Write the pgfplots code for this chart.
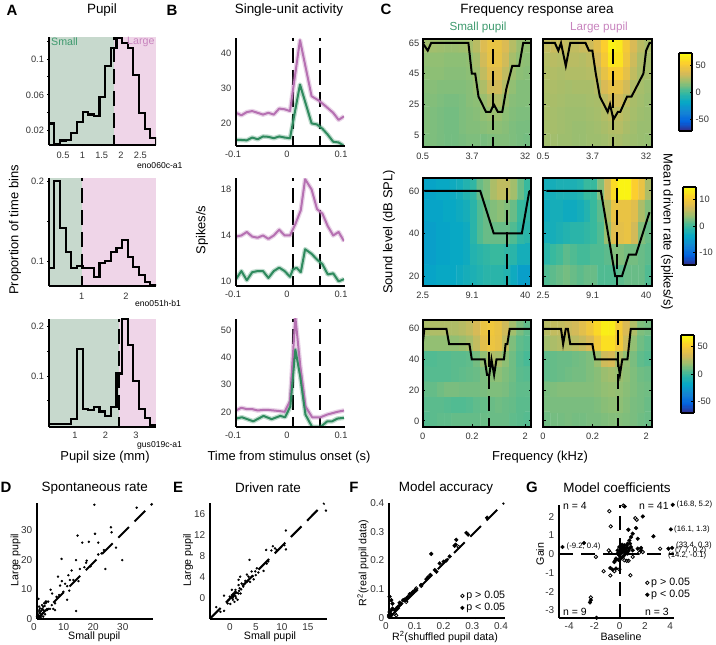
\documentclass[border=0pt]{standalone}
\usepackage{fontspec}
\setmainfont{Liberation Sans}
\usepackage{pgfplots}
\pgfplotsset{compat=1.18}

\definecolor{grn}{HTML}{2F8A5E}
\definecolor{pur}{HTML}{B671B2}
\definecolor{bgG}{HTML}{C7D9CD}
\definecolor{bgP}{HTML}{EFD5E8}
\definecolor{txtG}{HTML}{3E9A6E}
\definecolor{txtP}{HTML}{C884BE}

\newcommand{\fs}[1]{\fontsize{#1}{#1}\selectfont}
% text placed in reference pixels: size, options, x, y, text
\newcommand{\T}[5]{\node[inner sep=0pt,font=\fs{#1},#2] at (#3bp,{645bp-#4bp}) {#5};}

\pgfplotsset{
  colormap={parula}{HTML=(352A87) HTML=(0363E1) HTML=(1485D4) HTML=(06A7C6) HTML=(38B99E) HTML=(92BF73) HTML=(D9BA56) HTML=(FCCE2E) HTML=(F9FB0E)},
  colormap name=parula,
  /pgf/number format/assume math mode=true,
  panel/.style n args={4}{scale only axis,anchor=south west,at={(#1bp,{645bp-#2bp-#4bp})},width=#3bp,height=#4bp},
  common/.style={tick align=inside,major tick length=2.5bp,minor tick length=0bp,
    tick style={black,line width=1bp},tick label style={font=\fs{9.3},text=black!80},
    axis on top,clip=true},
  open/.style={common,axis x line=bottom,axis y line=left,axis line style={-,line width=2.2bp}},
  hm/.style={common,axis line style={line width=2.2bp},xmin=-0.5,xmax=14.5,xtick={-0.5,6.33,13.7},
    xticklabel style={yshift=-3bp},point meta min=-#1,point meta max=#1},
  bar/.style n args={5}{colorbar sampled,colorbar style={samples=65,at={(#1,#2)},anchor=north west,
    width=13bp,height=78bp,ytick={#3},yticklabels={#4},ytick pos=right,
    major tick length=2.5bp,tick align=inside,axis line style={line width=1.8bp},
    tick label style={font=\fs{9.3},text=black!80},tick style={black,line width=0.8bp},
    /pgf/number format/assume math mode=true}},
  hist/.style={const plot,black,line width=2.1bp,line join=miter},
  vd/.style={black,line width=2.2bp,dash pattern=on 3bp off 7bp on 15bp off 7bp on 15bp off 7bp on 15bp off 7bp on 15bp off 7bp on 15bp off 7bp},
  ln/.style={line width=2bp,line join=round},
  ps/.style={line width=4.6bp,opacity=0.3,line join=round},
  ld/.style={black,line width=2.1bp,dash pattern=on 15bp off 8bp},
  tune/.style={black,line width=2bp,line join=miter},
  dot/.style={only marks,mark=*,mark size=1bp,black},
  fdot/.style={only marks,mark=*,mark size=1.9bp,black},
  odot/.style={only marks,mark=o,mark size=1.7bp,black,mark options={line width=0.8bp}},
  bx/.style={open,xticklabel style={xshift=-3bp},xmin=-0.1,xmax=0.1,xtick={-0.1,0,0.1},xticklabels={-0.1,0,0.1}},
}

\begin{document}
\begin{tikzpicture}
\path[use as bounding box] (0,0) rectangle (716bp,645bp);

% ---------- A: pupil histograms
\begin{axis}[panel={48.7}{37}{107.3}{108},open,xmin=0.13,xmax=2.904,ymin=0.004,ymax=0.1246,
  xtick={0.5,1,1.5,2,2.5},xticklabels={0.5,1,1.5,2,2.5},xticklabel style={yshift=-2bp},
  ytick={0.02,0.04,0.06,0.08,0.1,0.12},yticklabels={0.02,,0.06,,0.1,}]
\addplot[fill=bgG,draw=none] coordinates {(0.13,0.004)(1.82,0.004)(1.82,0.1246)(0.13,0.1246)} -- cycle;
\addplot[fill=bgP,draw=none] coordinates {(1.82,0.004)(2.904,0.004)(2.904,0.1246)(1.82,0.1246)} -- cycle;
\addplot[vd] coordinates {(1.82,0.1246)(1.82,0.004)};
\addplot[hist] coordinates {(0.13,0.028)(0.276,0.005)(0.422,0.009)(0.568,0.01)(0.714,0.017)(0.86,0.03)(1.006,0.041)(1.152,0.038)(1.298,0.036)(1.444,0.058)(1.59,0.092)(1.736,0.112)(1.882,0.123)(2.028,0.118)(2.174,0.112)(2.32,0.082)(2.466,0.04)(2.612,0.022)(2.758,0.012)(2.904,0.012)(2.904,0.004)};
\end{axis}
\begin{axis}[panel={48.7}{178}{107.3}{108},open,xmin=0.255,xmax=2.677,ymin=0.069,ymax=0.204,
  xtick={0.5,1,1.5,2,2.5},xticklabels={,1,,2,},xticklabel style={yshift=-2bp},
  ytick={0.1,0.15,0.2},yticklabels={0.1,,0.2}]
\addplot[fill=bgG,draw=none] coordinates {(0.255,0.069)(1,0.069)(1,0.204)(0.255,0.204)} -- cycle;
\addplot[fill=bgP,draw=none] coordinates {(1,0.069)(2.677,0.069)(2.677,0.204)(1,0.204)} -- cycle;
\addplot[vd] coordinates {(1,0.204)(1,0.069)};
\addplot[hist] coordinates {(0.255,0.092)(0.3825,0.2)(0.51,0.142)(0.6375,0.112)(0.765,0.091)(0.8925,0.094)(1.02,0.092)(1.1475,0.091)(1.275,0.08)(1.4025,0.098)(1.53,0.1)(1.6575,0.112)(1.785,0.117)(1.9125,0.126)(2.04,0.105)(2.1675,0.093)(2.295,0.083)(2.4225,0.074)(2.55,0.07)(2.677,0.07)(2.677,0.069)};
\end{axis}
\begin{axis}[panel={48.7}{319}{107.3}{108},open,xmin=0.138,xmax=3.66,ymin=-0.0034,ymax=0.2156,
  xtick={1,2,3},xticklabels={1,2,3},
  ytick={0.05,0.1,0.15,0.2},yticklabels={,0.1,,0.2}]
\addplot[fill=bgG,draw=none] coordinates {(0.138,-0.0034)(2.45,-0.0034)(2.45,0.2156)(0.138,0.2156)} -- cycle;
\addplot[fill=bgP,draw=none] coordinates {(2.45,-0.0034)(3.66,-0.0034)(3.66,0.2156)(2.45,0.2156)} -- cycle;
\addplot[vd] coordinates {(2.45,0.2156)(2.45,-0.0034)};
\addplot[hist] coordinates {(0.138,0.002)(0.323,0.003)(0.509,0.002)(0.694,0.002)(0.88,0.013)(1.065,0.154)(1.25,0.034)(1.436,0.031)(1.621,0.038)(1.807,0.028)(1.992,0.018)(2.177,0.038)(2.363,0.105)(2.548,0.215)(2.734,0.163)(2.919,0.09)(3.104,0.033)(3.29,0.014)(3.475,0.001)(3.66,0.001)};
\end{axis}

% ---------- B: PSTHs
\begin{axis}[panel={236}{38}{108}{108},bx,ymin=13.6,ymax=44.2,ytick={20,30,40},yticklabels={20,30,40}]
\addplot[vd] coordinates {(0.005,44.2)(0.005,13.6)};
\addplot[vd] coordinates {(0.055,44.2)(0.055,13.6)};
\addplot[pur,ps] coordinates {(-0.1,23)(-0.09,22.3)(-0.08,23.2)(-0.07,23.5)(-0.06,23)(-0.05,22.5)(-0.04,23)(-0.03,22.5)(-0.02,24.2)(-0.01,24)(0,23.5)(0.0185,43.6)(0.04,27.7)(0.053,26.5)(0.065,25)(0.08,23)(0.09,21)(0.1,22)};
\addplot[grn,ps] coordinates {(-0.1,15.3)(-0.09,15.3)(-0.08,15.2)(-0.07,16)(-0.06,15.5)(-0.05,16.3)(-0.04,16.2)(-0.03,15.8)(-0.02,16.3)(-0.01,16)(0,15.8)(0.0185,31)(0.04,20)(0.05,19.7)(0.06,18.5)(0.07,16.8)(0.08,14.8)(0.09,14.6)(0.1,13.6)};
\addplot[pur,ln] coordinates {(-0.1,23)(-0.09,22.3)(-0.08,23.2)(-0.07,23.5)(-0.06,23)(-0.05,22.5)(-0.04,23)(-0.03,22.5)(-0.02,24.2)(-0.01,24)(0,23.5)(0.0185,43.6)(0.04,27.7)(0.053,26.5)(0.065,25)(0.08,23)(0.09,21)(0.1,22)};
\addplot[grn,ln] coordinates {(-0.1,15.3)(-0.09,15.3)(-0.08,15.2)(-0.07,16)(-0.06,15.5)(-0.05,16.3)(-0.04,16.2)(-0.03,15.8)(-0.02,16.3)(-0.01,16)(0,15.8)(0.0185,31)(0.04,20)(0.05,19.7)(0.06,18.5)(0.07,16.8)(0.08,14.8)(0.09,14.6)(0.1,13.6)};
\end{axis}
\begin{axis}[panel={236}{178}{108}{108},bx,ymin=9.6,ymax=19,ytick={10,12,14,16,18},yticklabels={10,,14,,18}]
\addplot[vd] coordinates {(0.005,19)(0.005,9.6)};
\addplot[vd] coordinates {(0.055,19)(0.055,9.6)};
\addplot[pur,ps] coordinates {(-0.1,13.9)(-0.09,14)(-0.08,14.3)(-0.07,13.9)(-0.06,13.8)(-0.05,14)(-0.04,13.7)(-0.03,14)(-0.02,14.5)(-0.01,14)(0,14)(0.01,15)(0.02,16.2)(0.028,18.9)(0.04,18)(0.05,16.3)(0.06,15.9)(0.07,14.8)(0.08,14)(0.09,14.3)(0.1,13.5)};
\addplot[grn,ps] coordinates {(-0.1,10.2)(-0.09,10.9)(-0.08,10.1)(-0.07,10.8)(-0.06,10.9)(-0.05,10.9)(-0.04,10.3)(-0.03,10.9)(-0.02,11.2)(-0.01,10.9)(0,10.4)(0.005,11)(0.012,11.2)(0.02,10.8)(0.028,12.8)(0.04,12.4)(0.05,11.9)(0.06,11.5)(0.07,10.6)(0.08,10.7)(0.09,10)(0.1,10.2)};
\addplot[pur,ln] coordinates {(-0.1,13.9)(-0.09,14)(-0.08,14.3)(-0.07,13.9)(-0.06,13.8)(-0.05,14)(-0.04,13.7)(-0.03,14)(-0.02,14.5)(-0.01,14)(0,14)(0.01,15)(0.02,16.2)(0.028,18.9)(0.04,18)(0.05,16.3)(0.06,15.9)(0.07,14.8)(0.08,14)(0.09,14.3)(0.1,13.5)};
\addplot[grn,ln] coordinates {(-0.1,10.2)(-0.09,10.9)(-0.08,10.1)(-0.07,10.8)(-0.06,10.9)(-0.05,10.9)(-0.04,10.3)(-0.03,10.9)(-0.02,11.2)(-0.01,10.9)(0,10.4)(0.005,11)(0.012,11.2)(0.02,10.8)(0.028,12.8)(0.04,12.4)(0.05,11.9)(0.06,11.5)(0.07,10.6)(0.08,10.7)(0.09,10)(0.1,10.2)};
\end{axis}
\begin{axis}[panel={236}{319}{108}{108},bx,ymin=14.4,ymax=54.3,ytick={20,30,40,50},yticklabels={20,30,40,50}]
\addplot[vd] coordinates {(0.005,54.3)(0.005,14.4)};
\addplot[vd] coordinates {(0.055,54.3)(0.055,14.4)};
\addplot[pur,ps] coordinates {(-0.1,20.5)(-0.09,21.5)(-0.08,21)(-0.07,21)(-0.06,20.5)(-0.05,20.7)(-0.04,20.7)(-0.03,20.5)(-0.02,20.3)(-0.01,20)(0,24)(0.0099,55)(0.019,37)(0.0286,22)(0.041,18)(0.0565,18)(0.069,19)(0.0876,20)(0.1,20.5)};
\addplot[grn,ps] coordinates {(-0.1,17.5)(-0.089,18)(-0.068,16.5)(-0.049,18.5)(-0.034,17.3)(-0.018,18.5)(-0.009,18)(0.0006,22)(0.0099,43)(0.019,33)(0.0286,19)(0.041,14.4)(0.0565,14.4)(0.069,16.5)(0.078,16.5)(0.0876,17.5)(0.1,17.8)};
\addplot[pur,ln] coordinates {(-0.1,20.5)(-0.09,21.5)(-0.08,21)(-0.07,21)(-0.06,20.5)(-0.05,20.7)(-0.04,20.7)(-0.03,20.5)(-0.02,20.3)(-0.01,20)(0,24)(0.0099,55)(0.019,37)(0.0286,22)(0.041,18)(0.0565,18)(0.069,19)(0.0876,20)(0.1,20.5)};
\addplot[grn,ln] coordinates {(-0.1,17.5)(-0.089,18)(-0.068,16.5)(-0.049,18.5)(-0.034,17.3)(-0.018,18.5)(-0.009,18)(0.0006,22)(0.0099,43)(0.019,33)(0.0286,19)(0.041,14.4)(0.0565,14.4)(0.069,16.5)(0.078,16.5)(0.0876,17.5)(0.1,17.8)};
\end{axis}

% ---------- C: frequency response areas, rows listed from lowest level up
\begin{axis}[panel={422.7}{39}{108.3}{108},hm=72,ymin=-2.9,ymax=67.6,xticklabels={0.5,3.7,32},ytick={5,25,45,65},yticklabels={5,25,45,65}]
\addplot[matrix plot*,mesh/cols=15,point meta=explicit] table[row sep=\\,header=false,meta index=0,x expr={mod(\coordindex,15)},y expr={-2.9+8.8125*(floor(\coordindex/15)+0.5)}] {
14\\14\\13\\12\\12\\13\\14\\14\\13\\14\\15\\15\\14\\13\\12\\
15\\14\\13\\12\\12\\14\\15\\15\\16\\17\\17\\16\\14\\13\\13\\
15\\14\\13\\12\\12\\14\\15\\16\\18\\20\\20\\17\\15\\14\\14\\
15\\15\\14\\13\\13\\14\\16\\17\\20\\25\\26\\20\\16\\15\\15\\
16\\16\\15\\15\\15\\15\\16\\19\\25\\33\\34\\26\\18\\15\\15\\
17\\17\\17\\16\\16\\16\\17\\21\\30\\39\\39\\30\\21\\17\\16\\
18\\18\\18\\17\\17\\17\\18\\23\\34\\43\\43\\34\\23\\18\\17\\
22\\22\\21\\20\\20\\21\\23\\28\\38\\44\\44\\37\\27\\20\\18\\
};
\addplot[tune] coordinates {(-0.5,65)(0.2,60)(0.67,65)(5.83,65)(6.3,45)(6.77,45)(7.23,30)(8.27,20)(8.88,20)(9.34,25)(9.91,20)(10.52,20)(11.08,35)(11.9,50)(12.86,50)(13.42,65)(14.5,65)};
\addplot[vd] coordinates {(9.28,67.6)(9.28,-2.9)};
\end{axis}
\begin{axis}[panel={543}{39}{108.9}{108},hm=72,ymin=-2.9,ymax=67.6,xticklabels={0.5,3.7,32},ytick={5,25,45,65},yticklabels={},
  bar={1.249}{0.87}{-50,0,50}{-50,0,50}{}]
\addplot[matrix plot*,mesh/cols=15,point meta=explicit] table[row sep=\\,header=false,meta index=0,x expr={mod(\coordindex,15)},y expr={-2.9+8.8125*(floor(\coordindex/15)+0.5)}] {
22\\22\\21\\21\\20\\20\\21\\21\\22\\24\\24\\22\\21\\20\\19\\
23\\23\\22\\21\\20\\20\\21\\22\\24\\26\\27\\24\\22\\20\\20\\
24\\23\\22\\21\\21\\21\\22\\23\\26\\29\\29\\26\\23\\21\\20\\
24\\24\\23\\22\\22\\22\\23\\24\\29\\34\\34\\29\\24\\22\\20\\
25\\25\\24\\23\\24\\24\\24\\27\\36\\42\\42\\34\\26\\23\\21\\
26\\26\\25\\26\\26\\26\\27\\31\\43\\52\\52\\42\\30\\24\\23\\
27\\28\\27\\28\\28\\27\\29\\35\\50\\64\\62\\47\\33\\25\\23\\
30\\32\\32\\30\\30\\32\\33\\40\\54\\68\\65\\50\\36\\28\\24\\
};
\addplot[tune] coordinates {(-0.5,65)(1.14,65)(1.61,60)(1.98,65)(2.64,50)(3.25,65)(5.36,65)(5.83,60)(6.3,60)(6.77,45)(7.33,30)(8.41,20)(8.73,25)(9.2,15)(9.81,20)(10.14,20)(11.08,30)(11.69,30)(13.33,45)(13.7,60)(14.17,65)(14.5,65)};
\addplot[vd] coordinates {(9.1,67.6)(9.1,-2.9)};
\end{axis}

\begin{axis}[panel={422.7}{178}{108.3}{108},hm=14.6,ymin=15.3,ymax=66.1,xticklabels={2.5,9.1,40},ytick={20,40,60},yticklabels={20,40,60}]
\addplot[matrix plot*,mesh/cols=16,point meta=explicit] table[row sep=\\,header=false,meta index=0,x expr={-0.5+0.9375*(mod(\coordindex,16)+0.5)},y expr={15.3+10.16*(floor(\coordindex/16)+0.5)}] {
-4\\-4\\-3.5\\-3.5\\-3.5\\-3\\-2.5\\-2\\-1.5\\-1\\-1\\-1\\-1.5\\-3\\-4.5\\-4.5\\
-4.5\\-4.5\\-4\\-4\\-3.5\\-3.5\\-3\\-1.5\\-1\\-0.5\\0\\0\\-0.5\\-1\\-2.5\\-2.5\\
-4.5\\-4.5\\-4\\-4\\-3.5\\-3.5\\-3\\-1\\1\\2\\2\\2\\2\\1\\-0.5\\-1\\
-4\\-4\\-4\\-3.5\\-3.5\\-3\\-2.5\\-1\\1\\2\\3\\3.5\\3\\2\\0\\-0.5\\
-4\\-4\\-3.5\\-3.5\\-3\\-2.5\\-1.5\\-0.5\\2\\3\\5\\6\\6\\4.5\\2\\0\\
};
\addplot[tune] coordinates {(-0.27,60)(7.47,60)(9.34,40)(13.23,40)(14.27,60)};
\addplot[vd] coordinates {(11.13,66.1)(11.13,15.3)};
\end{axis}
\begin{axis}[panel={543}{178}{108.9}{108},hm=14.6,ymin=15.3,ymax=66.1,xticklabels={2.5,9.1,40},ytick={20,40,60},yticklabels={},
  bar={1.285}{0.917}{-10,0,10}{-10,0,10}{}]
\addplot[matrix plot*,mesh/cols=16,point meta=explicit] table[row sep=\\,header=false,meta index=0,x expr={-0.5+0.9375*(mod(\coordindex,16)+0.5)},y expr={15.3+10.16*(floor(\coordindex/16)+0.5)}] {
1\\1.5\\2\\2.5\\2\\1.5\\2\\2\\1\\1\\1\\1.5\\2\\2\\2\\1\\
-1\\0\\0.5\\1.5\\1\\0.5\\0.5\\1\\1\\1.5\\3\\3\\2.5\\2.5\\2\\1.5\\
-2.5\\-2.5\\-2\\-1.5\\-1\\-1\\-0.5\\0\\1\\4\\8\\8.5\\9\\7\\3\\2\\
-3\\-2.5\\-2.5\\-3\\-3\\-2.5\\-1.5\\0\\1.5\\5\\9\\9\\9\\8\\5\\3\\
-2.5\\-2.5\\-2\\-2\\-2\\-1.5\\0\\0\\3\\7\\12\\14\\14\\11\\9\\5\\
};
\addplot[tune] coordinates {(-0.03,60)(7.47,60)(9.44,20)(10.38,20)(11.31,30)(12.3,30)(14.17,50)};
\addplot[vd] coordinates {(9.7,66.1)(9.7,15.3)};
\end{axis}

\begin{axis}[panel={422.7}{320}{108.3}{107},hm=71,ymin=-4,ymax=65.7,xticklabels={0,0.2,2},ytick={0,20,40,60},yticklabels={0,20,40,60}]
\addplot[matrix plot*,mesh/cols=15,point meta=explicit] table[row sep=\\,header=false,meta index=0,x expr={mod(\coordindex,15)},y expr={-4+9.957*(floor(\coordindex/15)+0.5)}] {
6\\7\\8\\8\\9\\9\\9\\9\\10\\10\\10\\10\\8\\7\\6\\
7\\7\\7\\6\\5\\5\\6\\8\\9\\10\\11\\10\\9\\7\\7\\
9\\9\\11\\13\\13\\12\\12\\12\\13\\14\\14\\13\\10\\8\\8\\
6\\6\\6\\6\\7\\8\\9\\10\\13\\16\\17\\14\\11\\7\\6\\
5\\5\\6\\6\\7\\7\\8\\12\\18\\25\\23\\17\\11\\6\\3\\
18\\18\\18\\18\\18\\20\\23\\30\\40\\45\\42\\29\\14\\8\\6\\
24\\25\\25\\25\\25\\27\\30\\35\\44\\47\\43\\33\\22\\13\\8\\
};
\addplot[tune] coordinates {(-0.5,50)(-0.27,60)(2.78,60)(3.16,50)(5.97,50)(6.3,40)(8.08,40)(8.41,30)(8.73,30)(9.02,40)(9.39,30)(9.72,40)(10.75,40)(10.98,50)(11.22,50)(11.55,60)(14.5,60)};
\addplot[vd] coordinates {(8.68,65.7)(8.68,-4)};
\end{axis}
\begin{axis}[panel={543}{320}{108.9}{107},hm=71,ymin=-4,ymax=65.7,xticklabels={0,0.2,2},ytick={0,20,40,60},yticklabels={},
  bar={1.267}{0.86}{-50,0,50}{-50,0,50}{}]
\addplot[matrix plot*,mesh/cols=15,point meta=explicit] table[row sep=\\,header=false,meta index=0,x expr={mod(\coordindex,15)},y expr={-4+9.957*(floor(\coordindex/15)+0.5)}] {
11\\12\\12\\13\\12\\12\\13\\13\\14\\15\\15\\14\\13\\11\\10\\
13\\13\\13\\13\\13\\13\\13\\14\\16\\17\\17\\15\\13\\12\\10\\
13\\14\\15\\15\\15\\15\\15\\16\\18\\19\\18\\16\\14\\12\\11\\
8\\9\\10\\11\\12\\12\\14\\16\\20\\22\\20\\17\\14\\11\\10\\
8\\9\\10\\10\\11\\12\\14\\20\\33\\35\\25\\18\\13\\8\\6\\
22\\24\\26\\26\\28\\31\\36\\48\\60\\60\\48\\32\\18\\11\\8\\
27\\30\\30\\32\\34\\40\\47\\57\\66\\65\\50\\36\\25\\14\\12\\
};
\addplot[tune] coordinates {(-0.5,60)(1.98,60)(2.27,50)(2.64,60)(2.92,60)(3.25,50)(6.3,50)(6.67,40)(9.77,40)(10.09,30)(10.42,40)(11.13,40)(11.59,60)(14.5,60)};
\addplot[vd] coordinates {(9.87,65.7)(9.87,-4)};
\end{axis}

% ---------- D: spontaneous rate
\begin{axis}[panel={37}{503}{116}{116},open,xticklabel style={xshift=-3bp},xmin=0,xmax=39.2,ymin=0,ymax=39.2,
  xtick={0,10,20,30},xticklabels={0,10,20,30},ytick={0,10,20,30},yticklabels={0,10,20,30},
  tick label style={font=\fs{10}}]
\addplot[ld] coordinates {(0,0)(39,39)};
\addplot[dot] coordinates {(19.4,38.6)(33.7,37.6)(25,31)(25.2,29.3)(13.7,28.2)(19.6,28.8)(15.3,25.8)(17.5,26.1)(20.7,25.8)(26.7,24.1)(28.8,19.9)(8.3,20.3)(13.2,19.9)(16.8,19.7)(16.6,19)(23.1,16.9)(13.2,2.7)(10.2,6.5)(0.5,6.8)(7.1,14.3)(10.6,14.8)(8.4,12.8)(9.5,11.9)(7.8,11.3)(11.7,16.4)(4.6,9.9)(5.1,8.6)(14.5,16.9)(16,17.5)(18.1,17.8)(20.7,21.8)(21.8,22.2)(22.6,23.3)(11.1,13.2)(12.3,13.2)(14,12.8)(10.9,9.6)(10.2,11.1)(8.9,9.2)(6.1,5.3)(5,4.7)(6.6,7.5)(7.5,8.1)(3.3,5.9)(2.7,5.3)(3.8,5.9)(2.1,4.2)(4.4,3.4)(5.5,3.4)(6.1,3)(1.6,3)(1,1.9)(0.5,1.1)(0.1,0.8)(2.7,1.6)(0.8,3)(1.4,1.1)(1.9,1.9)(2.4,2.7)(3.3,3)(3.8,3.4)(0,0.8)(0.2,2.5)(0.7,4.2)(1.7,4.7)(2.4,5.3)(2.9,5.9)(1,3.6)(1.6,1.4)(2.1,0.8)(0.5,0.5)(1.2,0.6)(0.9,2.2)(1.3,2.6)(1.8,3.5)(2.2,3)(2.6,4.4)(3.1,5.5)(3.5,3.1)(1.1,1.1)(0.3,1.6)(0.7,0.4)};
\end{axis}

% ---------- E: driven rate
\begin{axis}[panel={210}{503}{117}{116},open,xticklabel style={xshift=-1bp},xmin=-4,xmax=18.5,ymin=-4.06,ymax=18.04,
  xtick={0,5,10,15},xticklabels={0,5,10,15},ytick={0,4,8,12,16},yticklabels={0,4,8,12,16},
  tick label style={font=\fs{10}}]
\addplot[ld] coordinates {(-4,-4)(18,18)};
\addplot[dot] coordinates {(18.3,16.6)(10.6,12.8)(10.6,9.2)(10.3,10)(8.1,9.8)(8.5,9.4)(6.8,9.1)(7.8,9)(8.8,9.1)(3.6,7.2)(6.3,5.1)(6.9,6.5)(7.2,6.9)(0.5,0.8)(-1.3,0.4)(-2.8,-1.8)(-1.3,-2.5)(-0.8,-0.8)(-0.1,-1.2)(1.5,3.4)(1.8,4)(1.7,1.8)(3.1,4.4)(5,5.6)(4.7,5)(4,5)(3.4,4)(2.8,3.2)(2.1,2.7)(1.5,2.4)(0.8,1.1)(0.5,0.2)(1,-0.1)(0.2,0.5)(-0.1,-0.1)(0.4,-0.4)(-0.4,-0.4)(1.3,-0.4)(1.9,0.8)(2.4,2.1)(3.7,3)(4.4,3.5)(5.3,4.8)(0.7,-0.8)(1.5,0.8)(0.2,1.5)(0.9,1.5)(-0.6,-1.1)(-2,-2.7)(0.6,0.5)(0.9,0.3)(1.2,0.9)(0.3,-0.1)(-0.2,0.2)(1.6,1.3)(2,1.6)(2.6,2.6)(3.2,3.1)(4.2,4.1)(4.8,4.3)};
\end{axis}

% ---------- F: model accuracy
\begin{axis}[panel={389}{503}{115}{115},open,xticklabel style={xshift=-3bp},xmin=0,xmax=0.4,ymin=0,ymax=0.4,clip=false,
  xtick={0,0.1,0.2,0.3,0.4},xticklabels={0,0.1,0.2,0.3,0.4},ytick={0,0.1,0.2,0.3,0.4},yticklabels={0,0.1,0.2,0.3,0.4},
  tick label style={font=\fs{10}},
  legend style={draw=none,fill=none,at={(0.62,0.25)},anchor=north west,font=\fs{10.7},inner sep=0pt,row sep=-1pt},legend cell align=left]
\addplot[ld,forget plot] coordinates {(0,0)(0.4,0.4)};
\addplot[odot] coordinates {(0.242,0.247)(0.112,0.112)(0.095,0.103)(0.025,0.009)(0.02,0.015)(0.008,0.009)(0.054,0.064)(0.083,0.088)(0.06,0.056)};
\addlegendentry{p > 0.05}
\addplot[fdot] coordinates {(0.147,0.223)(0.234,0.272)(0.232,0.255)(0.228,0.251)(0.269,0.296)(0.275,0.29)(0.341,0.349)(0.211,0.214)(0.159,0.167)(0.165,0.161)(0.176,0.19)(0.19,0.196)(0.199,0.2)(0.002,0.074)(0.008,0.062)(0.012,0.05)(0.031,0.039)(0.037,0.053)(0.049,0.062)(0.06,0.068)(0.072,0.083)(0.083,0.091)(0.095,0.097)(0.112,0.115)(0.13,0.135)(0.136,0.142)(0.144,0.15)(0.002,0.021)(0.006,0.015)(0,0.004)(0,0.01)(0.008,0.027)(0.012,0.033)(0.02,0.027)(0.025,0.033)(0.037,0.044)(0.043,0.05)(0.054,0.062)(0.066,0.074)(0.078,0.085)(0.089,0.095)};
\addlegendentry{p < 0.05}
\end{axis}

% ---------- G: model coefficients
\begin{axis}[panel={559}{505}{115}{113},open,xmin=-4.8,xmax=4.3,ymin=-3.4,ymax=2.63,clip=false,
  xtick={-4,-2,0,2,4},xticklabels={-4,-2,0,2,4},ytick={-3,-2,-1,0,1,2},yticklabels={-3,-2,-1,0,1,2},
  tick label style={font=\fs{10}},
  legend style={draw=none,fill=none,at={(0.75,0.37)},anchor=north west,font=\fs{10.7},inner sep=0pt,row sep=-1pt},legend cell align=left]
\addplot[black,line width=2.1bp,dash pattern=on 14bp off 8bp,forget plot] coordinates {(-4.8,0)(4.3,0)};
\addplot[black,line width=2.1bp,dash pattern=on 14bp off 8bp,forget plot] coordinates {(0,-3.4)(0,2.63)};
\addplot[odot] coordinates {(0.29,2.6)(-0.82,2.3)(1.24,1.93)(1.35,1.84)(-0.71,1.49)(-0.87,0.21)(3.2,0.3)(-1.88,-0.14)(-1.27,-0.9)(-0.74,-1.13)(0.85,-1.12)(-2.28,-2.3)(-0.03,-0.8)(-0.42,-0.9)(0.37,-0.32)(0.56,-0.35)(0.71,-0.35)(1.03,-0.14)(-0.74,0.09)(1.83,0.12)(1.56,0.09)};
\addlegendentry{p > 0.05}
\addplot[fdot] coordinates {(0.4,2.55)(1.83,2.02)(1.3,1.4)(0.69,1.31)(2.67,0.96)(1.43,0.83)(-2.83,0.6)(-4.52,0.39)(3.86,0.3)(4.15,0.34)(4.05,1.33)(4.2,2.64)(-0.74,-0.73)(-0.56,-0.82)(-0.29,-0.76)(-2.28,-2.45)(-2.35,-2.57)(-1.83,-3.39)(1.03,1.1)(0.9,0.92)(0.77,0.74)(0.63,0.57)(0.37,0.48)(0.1,0.3)(0.24,0.12)(-0.03,-0.05)(-0.16,0.04)(-0.29,-0.23)(-0.42,-0.41)(0.5,0.21)(0.77,0.3)(1.03,0.21)(0.1,0.04)(0.37,-0.05)(0.63,0.04)(0.1,-0.23)(-0.16,0.21)(-0.03,0.39)(0.29,0.3)(0.45,0.09)(0.9,0.39)(1.43,0.3)(1.69,0.21)(1.69,0.34)(-0.34,-0.32)(0.19,0.51)(0.56,0.48)(0.82,0.57)(0.03,0.12)(0.24,-0.14)(0.3,0.15)(0.45,0.28)(0.6,0.36)(0.15,0.2)(0.05,-0.15)(-0.1,-0.3)(0.35,0.38)(0.7,0.18)(0.2,0.42)(0.55,0.1)};
\addlegendentry{p < 0.05}
\end{axis}

% ---------- panel letters
\T{15}{font=\fs{15}\bfseries}{12}{10}{A}
\T{15}{font=\fs{15}\bfseries}{172}{10}{B}
\T{15}{font=\fs{15}\bfseries}{386}{9}{C}
\T{15}{font=\fs{15}\bfseries}{6}{487}{D}
\T{15}{font=\fs{15}\bfseries}{178}{487}{E}
\T{15}{font=\fs{15}\bfseries}{354}{487}{F}
\T{15}{font=\fs{15}\bfseries}{532}{487}{G}
% ---------- titles
\T{13.5}{}{102}{10}{Pupil}
\T{13.5}{}{289}{10}{Single-unit activity}
\T{13.5}{}{537}{10}{Frequency response area}
\T{11.7}{text=txtG}{478}{27}{Small pupil}
\T{11.7}{text=txtP}{599}{27}{Large pupil}
\T{13.5}{}{94.7}{488}{Spontaneous rate}
\T{13.5}{}{268}{488}{Driven rate}
\T{13.5}{}{446}{488}{Model accuracy}
\T{13.5}{}{617}{488}{Model coefficients}
% ---------- axis labels
\T{13}{rotate=90}{15}{230}{Proportion of time bins}
\T{13}{rotate=90}{202}{230}{Spikes/s}
\T{13}{rotate=90}{389}{232}{Sound level (dB SPL)}
\T{13}{rotate=-90}{667}{232}{Mean driven rate (spikes/s)}
\T{13}{}{105}{457}{Pupil size (mm)}
\T{13}{}{289}{457}{Time from stimulus onset (s)}
\T{13}{}{540}{457}{Frequency (kHz)}
\T{10.7}{rotate=90}{15.7}{560}{Large pupil}
\T{10.7}{}{94.3}{637}{Small pupil}
\T{10.7}{rotate=90}{188}{560}{Large pupil}
\T{10.7}{}{270}{637}{Small pupil}
\T{10.7}{rotate=90}{363}{563}{R\textsuperscript{2}(real pupil data)}
\T{10.7}{}{445}{637}{R\textsuperscript{2}(shuffled pupil data)}
\T{10.7}{rotate=90}{540}{554}{Gain}
\T{10.7}{}{621}{637}{Baseline}
% ---------- annotations
\T{10.7}{anchor=west,text=txtG}{51}{42}{Small}
\T{10.7}{anchor=west,text=txtP}{127}{42}{Large}
\T{8.6}{anchor=west}{137}{165.5}{eno060c-a1}
\T{8.6}{anchor=west}{135}{303}{eno051h-b1}
\T{8.6}{anchor=west}{137}{445.5}{gus019c-a1}
\T{10.5}{anchor=west}{563}{506}{n = 4}
\T{10.5}{anchor=west}{639}{506}{n = 41}
\T{10.5}{anchor=west}{563}{611.5}{n = 9}
\T{10.5}{anchor=west}{645}{611.5}{n = 3}
\T{7.8}{anchor=west}{676.5}{504}{(16.8, 5.2)}
\T{7.8}{anchor=west}{674}{529}{(16.1, 1.3)}
\T{7.8}{anchor=west}{676}{545}{(33.4, 0.3)}
\T{7.8}{anchor=west}{675}{550}{(7.7, 0.2)}
\T{7.8}{anchor=west}{668}{555.5}{(14.2, -0.1)}
\T{7.8}{anchor=west}{566.5}{546.5}{(-9.2, 0.4)}
\end{tikzpicture}
\end{document}
